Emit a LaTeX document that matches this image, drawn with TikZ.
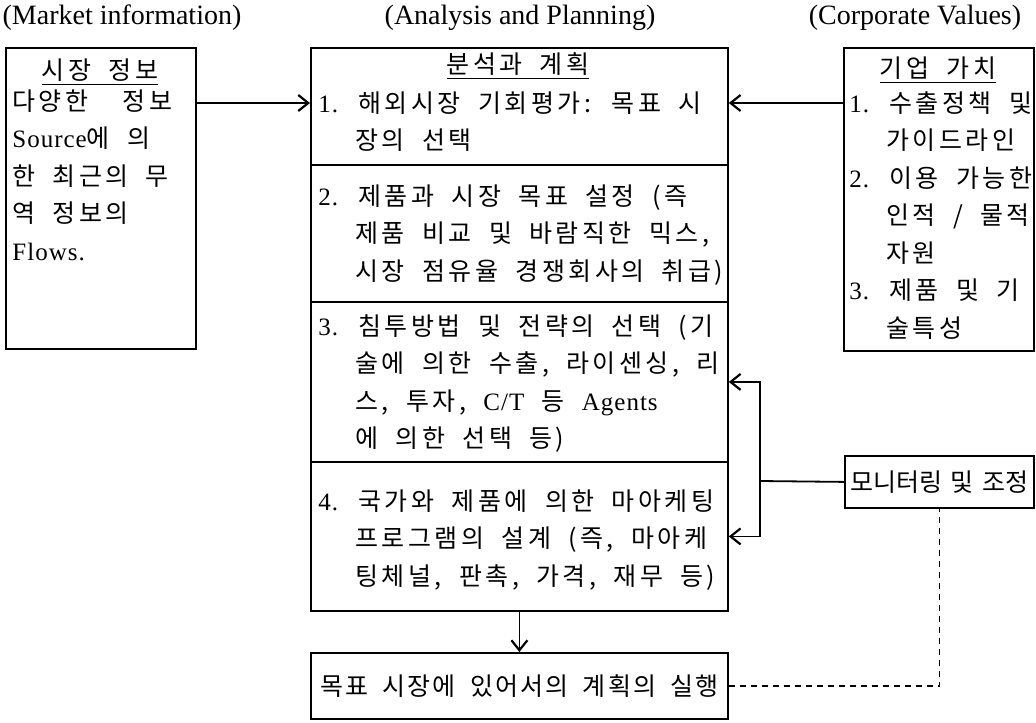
\documentclass[tikz,border=0pt]{standalone}
\usepackage{fontspec}
\setmainfont{Liberation Serif}
\newfontfamily\kr[LetterSpace=14,WordSpace=1.9]{Noto Sans CJK KR}
\newfontfamily\kre[LetterSpace=9,WordSpace=1.8]{Noto Sans CJK KR}
\newfontfamily\krt[WordSpace=1.5]{Noto Sans CJK KR}
\usetikzlibrary{arrows.meta}
\newcommand{\en}[1]{{\rmfamily\addfontfeature{LetterSpace=4} #1}}
\newcommand{\hn}{\hphantom{\en{1.}\ }}

\begin{document}
\begin{tikzpicture}[x=0.5pt,y=-0.5pt,
   box/.style={draw,line width=0.9pt,inner sep=0pt,anchor=north west},
   txt/.style={font=\kr\fontsize{12.5}{18.75}\selectfont,align=left,inner sep=0pt},
   hd/.style={font=\fontsize{14}{16}\selectfont,inner sep=0pt},
   lnk/.style={line width=0.9pt,-{Straight Barb[length=5pt,width=8pt,line width=1.1pt]}},
   fbk/.style={line width=0.8pt,dash pattern=on 3pt off 2.5pt}]
   \useasboundingbox (0,0) rectangle (1036,722);
   \node[hd] (hmkt)  at ( 122, 18) {(Market information)};
   \node[hd] (hplan) at ( 520, 18) {(Analysis and Planning)};
   \node[hd] (hcorp) at ( 915, 18) {(Corporate Values)};
   \node[box,minimum width= 95pt,minimum height=150.5pt] (market)  at (   5, 47) {};
   \node[box,minimum width=208.5pt,minimum height=58.5pt] (plan1)  at ( 310, 47) {};
   \node[box,minimum width=208.5pt,minimum height=68.5pt] (plan2)  at ( 310,164) {};
   \node[box,minimum width=208.5pt,minimum height=80pt]   (plan3)  at ( 310,301) {};
   \node[box,minimum width=208.5pt,minimum height=74.5pt] (plan4)  at ( 310,461) {};
   \node[box,minimum width= 95pt,minimum height=151.5pt] (corp)    at ( 843, 47) {};
   \node[box,txt,font=\krt\fontsize{12.5}{15}\selectfont,minimum width=94.5pt,minimum height=26pt] (monitor) at ( 844,455) {모니터링 및 조정};
   \node[box,txt,font=\kre\fontsize{12.5}{15}\selectfont,minimum width=208.5pt,minimum height=33pt] (exec)  at ( 310,652) {목표 시장에 있어서의 계획의 실행};
   \node[txt] (tmkt)  at ( 100, 72) {\underline{시장 정보}};
   \node[txt,anchor=north west] (bmkt) at (  12, 89)
      {다양한 \ 정보\\ \en{Source}에 의\\ 한 최근의 무\\ 역 정보의\\ \en{Flows.}};
   \node[txt] (tplan) at ( 518, 66) {\underline{분석과 계획}};
   \node[txt,anchor=north west] (b1) at ( 318, 91)
      {\en{1.} 해외시장 기회평가: 목표 시\\ \hn 장의 선택};
   \node[txt,anchor=north west] (b2) at ( 318,184)
      {\en{2.} 제품과 시장 목표 설정 (즉\\ \hn 제품 비교 및 바람직한 믹스,\\ \hn 시장 점유율 경쟁회사의 취급)};
   \node[txt,anchor=north west] (b3) at ( 318,314)
      {\en{3.} 침투방법 및 전략의 선택 (기\\ \hn 술에 의한 수출, 라이센싱, 리\\ \hn 스, 투자, \en{C/T} 등 \en{Agents}\\ \hn 에 의한 선택 등)};
   \node[txt,anchor=north west] (b4) at ( 318,489)
      {\en{4.} 국가와 제품에 의한 마아케팅\\ \hn 프로그램의 설계 (즉, 마아케\\ \hn 팅체널, 판촉, 가격, 재무 등)};
   \node[txt] (tcorp) at ( 938, 70) {\underline{기업 가치}};
   \node[txt,anchor=north west] (bcorp) at ( 849, 91)
      {\en{1.} 수출정책 및\\ \hn 가이드라인\\ \en{2.} 이용 가능한\\ \hn 인적 / 물적\\ \hn 자원\\ \en{3.} 제품 및 기\\ \hn 술특성};
   \coordinate (fb) at ( 760,481);
   \draw[lnk] ([yshift=-28pt]market.north east) -- ([yshift=-28pt]plan1.north west);
   \draw[lnk] ([yshift=-28pt]corp.north west) -- ([yshift=-28pt]plan1.north east);
   \draw[line width=0.9pt] (monitor.west) -- (fb);
   \draw[lnk] (fb) |- (plan3.east);
   \draw[lnk] (fb) |- (plan4.east);
   \draw[lnk] (plan4.south) -- (exec.north);
   \draw[fbk] (exec.east) -| (monitor.south);
\end{tikzpicture}
\end{document}
